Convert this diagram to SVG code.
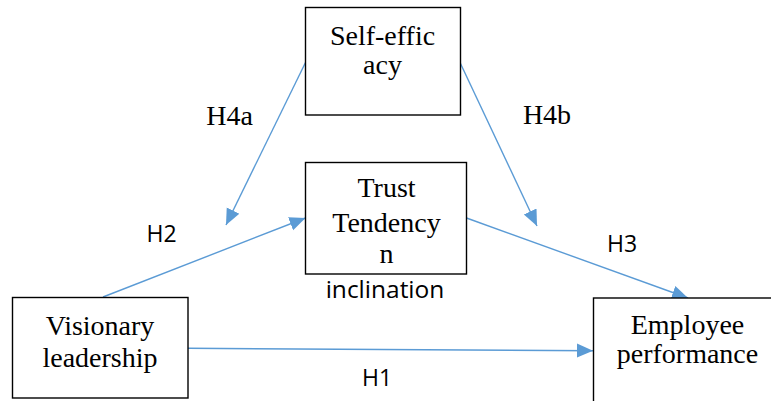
<svg xmlns="http://www.w3.org/2000/svg" width="771" height="401" viewBox="0 0 771 401">
<defs>
<marker id="arr" markerUnits="userSpaceOnUse" markerWidth="16" markerHeight="16" viewBox="0 0 16 14" refX="16" refY="7" orient="auto">
<polygon points="0,0 16,7 0,14" fill="#5B9BD5"/>
</marker>
<style>
.box{fill:#fff;stroke:#000;stroke-width:1.4}
.t{font-family:"Liberation Serif","Times New Roman",serif;font-size:28px;fill:#000;text-anchor:middle}
.s{font-family:"Open Sans","Noto Sans",sans-serif;font-size:23px;fill:#000;text-anchor:middle}
.c{stroke:#5B9BD5;stroke-width:1.4;fill:none;marker-end:url(#arr)}
</style>
</defs>
<rect width="771" height="401" fill="#fff"/>
<g id="connectors">
<line class="c" x1="305.5" y1="62.5" x2="226" y2="225"/>
<line class="c" x1="460" y1="62.5" x2="537" y2="226"/>
<line class="c" x1="103" y1="297" x2="305.5" y2="218"/>
<line class="c" x1="466.5" y1="218" x2="688" y2="298"/>
<line class="c" x1="188" y1="348.3" x2="593" y2="350.7"/>
</g>
<g id="self-efficacy">
<rect class="box" x="305.5" y="7.5" width="155" height="107.5"/>
<text class="t" x="382.5" y="44.5">Self-effic</text>
<text class="t" x="382.5" y="73.5">acy</text>
</g>
<g id="trust">
<rect class="box" x="305.5" y="162.5" width="161" height="111.5"/>
<text class="t" x="386.5" y="197">Trust</text>
<text class="t" x="386.5" y="231.5">Tendency</text>
<text class="t" x="386.5" y="263">n</text>
<text class="s" x="385" y="297.5" style="font-size:24.5px">inclination</text>
</g>
<g id="visionary">
<rect class="box" x="12.5" y="297.5" width="175.5" height="100.5"/>
<text class="t" x="100" y="335">Visionary</text>
<text class="t" x="100" y="367">leadership</text>
</g>
<g id="employee">
<rect class="box" x="593.5" y="298" width="200" height="120"/>
<text class="t" x="687.5" y="334">Employee</text>
<text class="t" x="687.5" y="363">performance</text>
</g>
<g id="labels">
<text class="t" x="229.5" y="125">H4a</text>
<text class="t" x="547" y="124">H4b</text>
<text class="s" x="161.5" y="242">H2</text>
<text class="s" x="622" y="251.5">H3</text>
<text class="s" x="377" y="386">H1</text>
</g>
</svg>
